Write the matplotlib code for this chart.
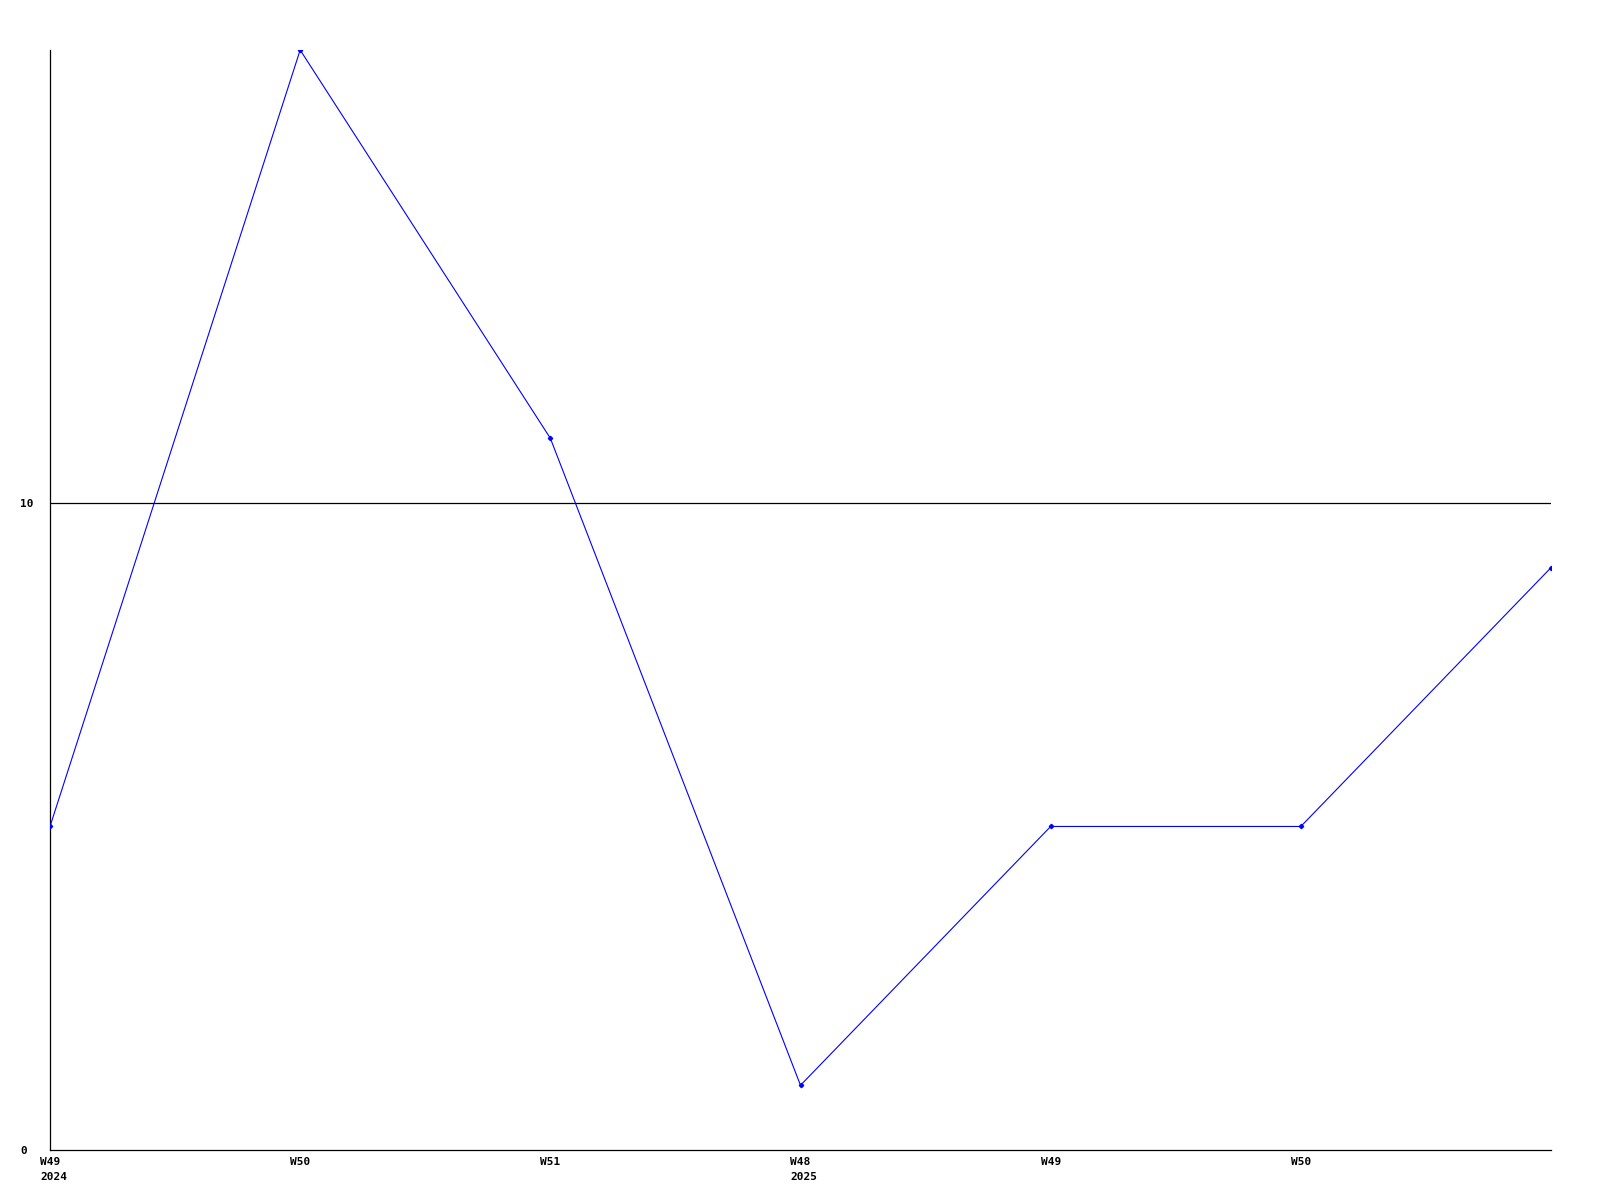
import matplotlib
matplotlib.use("Agg")
import matplotlib.pyplot as plt
from matplotlib.transforms import ScaledTranslation

weeks = ["W49\n2024", "W50", "W51", "W48\n2025", "W49", "W50", "W51"]
values = [5, 17, 11, 1, 5, 5, 9]
shown_ticks = 6
yticks = [0, 10]

fig = plt.figure(figsize=(16, 12), dpi=100)
ax = fig.add_axes([50/1600, 50/1200, (1551-50)/1600, (1150-50)/1200])

x = list(range(len(values)))
ax.plot(x, values, color="#0000ff", linewidth=0.8, marker="D", markersize=2.2,
        markerfacecolor="#0000ff", markeredgecolor="#0000ff", clip_on=True, zorder=3)

ax.set_xlim(0, len(values) - 1)
ax.set_ylim(0, 17)
ax.axhline(10, color="black", linewidth=0.9, zorder=1)

for s in ["top", "right"]:
    ax.spines[s].set_visible(False)
for s in ["left", "bottom"]:
    ax.spines[s].set_linewidth(0.9)
    ax.spines[s].set_color("black")

font = dict(family="DejaVu Sans Mono", weight="bold", size=8)
ax.set_xticks(x[:shown_ticks])
ax.set_xticklabels(weeks[:shown_ticks], ha="left", va="top", linespacing=1.6, **font)
ax.set_yticks(yticks)
ax.set_yticklabels([str(v) for v in yticks], ha="left", **font)
ax.tick_params(axis="both", length=0)
ax.tick_params(axis="x", pad=5)
ax.tick_params(axis="y", pad=21.6)

off = ScaledTranslation(-10/100, 0, fig.dpi_scale_trans)
for lab in ax.get_xticklabels():
    lab.set_transform(lab.get_transform() + off)

fig.savefig("out.png", dpi=100, facecolor="white")
